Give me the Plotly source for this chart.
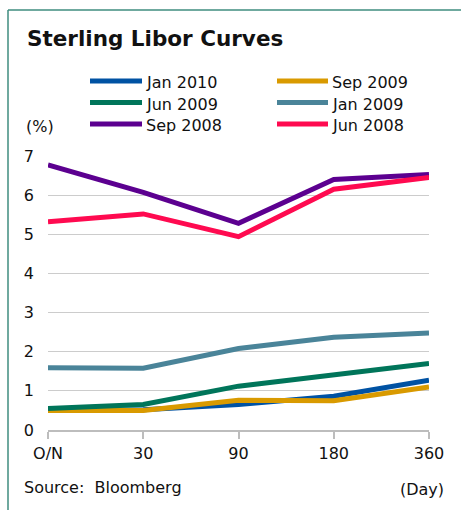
import plotly.graph_objects as go

# Tenors on the x axis
tenors = ["O/N", "30", "90", "180", "360"]

# Sterling Libor curves (%) on each date
jan_2010 = [0.50, 0.52, 0.65, 0.86, 1.27]
sep_2009 = [0.50, 0.50, 0.76, 0.75, 1.10]
jun_2009 = [0.55, 0.65, 1.12, 1.42, 1.70]
jan_2009 = [1.59, 1.58, 2.08, 2.37, 2.48]
sep_2008 = [6.77, 6.07, 5.28, 6.40, 6.53]
jun_2008 = [5.32, 5.52, 4.94, 6.15, 6.45]

series_names = ["Jan 2010", "Sep 2009", "Jun 2009", "Jan 2009", "Sep 2008", "Jun 2008"]
series_values = [jan_2010, sep_2009, jun_2009, jan_2009, sep_2008, jun_2008]
series_colors = ["#0052A3", "#D99A00", "#00755A", "#4A8499", "#5C0090", "#FF0A50"]

y_ticks = [0, 1, 2, 3, 4, 5, 6, 7]

W, H = 461, 510
ML, MR, MT, MB = 48, 32, 156, 80
PW, PH = W - ML - MR, H - MT - MB


def px(x):
    return (x - ML) / PW


def py(y):
    return (H - MB - y) / PH


fig = go.Figure()
for name, vals, col in zip(series_names, series_values, series_colors):
    fig.add_trace(go.Scatter(x=tenors, y=vals, mode="lines", name=name,
                             line=dict(color=col, width=5), showlegend=False))

font = "DejaVu Sans"
shapes = []
annotations = []

# frame: teal rule on the left and top
frame = "#3F8C7F"
shapes.append(dict(type="line", xref="paper", yref="paper",
                   x0=px(8), x1=px(8), y0=py(10), y1=py(H + 5),
                   line=dict(color=frame, width=1.5)))
shapes.append(dict(type="line", xref="paper", yref="paper",
                   x0=px(8), x1=px(W + 5), y0=py(10), y1=py(10),
                   line=dict(color=frame, width=1.5)))

# legend in two columns
cols = [(90, 142, 144), (277, 328, 330)]
rows = [81, 102.5, 124]
for i, (name, col) in enumerate(zip(series_names, series_colors)):
    r, c = divmod(i, 2)
    x0, x1, tx = cols[c]
    y = rows[r]
    shapes.append(dict(type="line", xref="paper", yref="paper",
                       x0=px(x0), x1=px(x1), y0=py(y), y1=py(y),
                       line=dict(color=col, width=5)))
    annotations.append(dict(text=name, xref="paper", yref="paper",
                            x=px(tx), y=py(y + 1.5), xanchor="left", yanchor="middle",
                            showarrow=False, font=dict(family=font, size=16, color="#111")))

annotations += [
    dict(text="<b>Sterling Libor Curves</b>", xref="paper", yref="paper",
         x=px(25), y=py(39), xanchor="left", yanchor="middle", showarrow=False,
         font=dict(family=font, size=21.5, color="#111")),
    dict(text="(%)", xref="paper", yref="paper",
         x=px(24), y=py(126), xanchor="left", yanchor="middle", showarrow=False,
         font=dict(family=font, size=16, color="#111")),
    dict(text="Source:  Bloomberg", xref="paper", yref="paper",
         x=px(22), y=py(487), xanchor="left", yanchor="middle", showarrow=False,
         font=dict(family=font, size=16, color="#111")),
    dict(text="(Day)", xref="paper", yref="paper",
         x=px(446), y=py(489), xanchor="right", yanchor="middle", showarrow=False,
         font=dict(family=font, size=16, color="#111")),
]

fig.update_layout(
    width=W, height=H,
    margin=dict(l=ML, r=MR, t=MT, b=MB, pad=0),
    paper_bgcolor="white", plot_bgcolor="white",
    shapes=shapes, annotations=annotations,
    font=dict(family=font, size=16, color="#111"),
    xaxis=dict(type="category", range=[0, 4], showgrid=False,
               showline=True, linecolor="#BDBDBD", linewidth=1.5,
               ticks="outside", ticklen=7, tickcolor="#BDBDBD", tickwidth=1.5,
               ticklabelstandoff=1, zeroline=False),
    yaxis=dict(range=[0, 7], tickvals=y_ticks, showgrid=True, gridcolor="#CCCCCC",
               gridwidth=1, zeroline=False, showline=False, ticks="",
               ticklabelstandoff=13),
)

fig.write_html("out.html")
